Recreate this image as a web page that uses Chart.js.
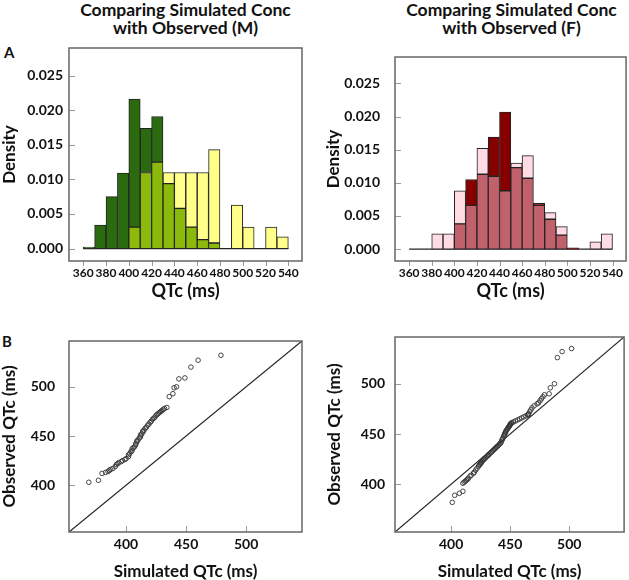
<!DOCTYPE html>
<html>
<head>
<meta charset="utf-8">
<script src="https://cdn.jsdelivr.net/npm/chart.js@4.4.0/dist/chart.umd.min.js"></script>
<style>
  body { margin: 0; background: #fff; width: 629px; height: 580px; position: relative; overflow: hidden; font-family: Lato, sans-serif; }
  canvas { position: absolute; }
  .t { position: absolute; font-weight: bold; color: #111; text-align: center; white-space: nowrap; }
</style>
</head>
<body>
<div class="t" style="left:69px;width:233px;top:1px;font-size:17.5px;line-height:18px">Comparing Simulated Conc<br>with Observed (M)</div>
<div class="t" style="left:395px;width:233px;top:1px;font-size:17.5px;line-height:18px">Comparing Simulated Conc<br>with Observed (F)</div>
<div class="t" style="left:4px;top:44px;font-size:15px;line-height:16px">A</div>
<div class="t" style="left:2px;top:333px;font-size:15px;line-height:16px">B</div>

<canvas id="histM" width="310" height="265" style="left:0;top:35px"></canvas>
<canvas id="histF" width="309" height="265" style="left:320px;top:35px"></canvas>
<canvas id="qqM" width="310" height="260" style="left:0;top:320px"></canvas>
<canvas id="qqF" width="309" height="260" style="left:320px;top:320px"></canvas>

<script>
// histogram bins (10 ms wide), centre of each bin
const binMid = [365, 375, 385, 395, 405, 415, 425, 435, 445, 455, 465, 475, 485, 495, 505, 515, 525, 535];
const histXTicks = [360, 380, 400, 420, 440, 460, 480, 500, 520, 540];
const histYTicks = [0, 0.005, 0.010, 0.015, 0.020, 0.025];

// density, males
const simM = [0.0002, 0.0034, 0.0075, 0.0109, 0.0216, 0.0174, 0.0191, 0.0094, 0.0058, 0.0031, 0.0013, 0.0008, 0, 0, 0, 0, 0, 0];
const obsM = [0, 0, 0, 0, 0.0031, 0.0110, 0.0125, 0.0110, 0.0110, 0.0110, 0.0110, 0.0143, 0, 0.0063, 0.0031, 0, 0.0031, 0.0017];
// density, females
const simF = [0, 0, 0, 0, 0.0038, 0.0105, 0.0113, 0.0169, 0.0207, 0.0123, 0.0107, 0.0069, 0.0045, 0.0021, 0.0002, 0, 0, 0];
const obsF = [0, 0, 0.0023, 0.0023, 0.0088, 0.0066, 0.0152, 0.0110, 0.0088, 0.0130, 0.0141, 0.0066, 0.0055, 0.0034, 0, 0, 0.0011, 0.0023];

// Q-Q plot: sorted simulated vs sorted observed QTc (ms)
const qqSimM = [369, 377, 380, 383, 385, 386, 387, 389, 391, 392, 393, 394, 396, 397, 399, 400, 402, 402, 403, 404, 405, 405, 406, 407,
  408, 408, 409, 409, 410, 411, 412, 412, 413, 414, 414, 415, 416, 417, 418, 419, 420, 421, 422, 423, 424, 425, 426, 427, 428, 429,
  430, 431, 432, 434, 436, 439, 440, 442, 444, 449, 454, 460, 479];
const qqObsM = [403, 405, 412, 413, 414, 415, 416, 417, 419, 421, 422, 423, 424, 425, 426, 427, 429, 431, 432, 434, 435, 437, 438, 439,
  441, 442, 444, 445, 446, 448, 449, 451, 452, 454, 455, 456, 458, 459, 461, 462, 464, 465, 467, 468, 469, 471, 472, 473, 474, 475,
  476, 477, 478, 479, 490, 493, 499, 500, 508, 509, 520, 527, 532];
const qqSimF = [401, 403, 407, 410, 410, 411, 412, 413, 414, 414.5, 416, 417, 419, 419.6, 420.8, 422, 423.3, 423.9,
  424.5, 425.2, 425.2, 425.8, 426.4, 427, 427.9, 427.9, 428.8, 429.7, 430.6, 431.4, 431.4,
  432.3, 433.2, 434.1, 435, 435.9, 436.8, 437.6, 438.5, 439.4, 440.3, 441.1, 442, 442.4, 443.1, 443.5, 443.9, 444.6, 445,
  445.4, 445.8, 446.1, 446.5, 447.1, 447.6, 448.2, 448.8, 449.3, 449.3, 449.9, 449.9,
  450.4, 451, 451.5, 452.8, 454.5, 456.3, 458, 459.8, 461.5, 463.3, 465, 465.3,
  465.5, 466.5, 467.5, 468.5, 470.3, 472.8, 474, 475.3, 476.5, 477.8, 479, 483, 484, 487.5, 490, 494, 502];
const qqObsF = [382, 389, 391, 393, 401, 402, 403, 404, 405, 406, 408, 409, 411, 412, 414, 416, 418, 419,
  420, 421, 421, 422, 423, 424, 425, 425, 426, 427, 428, 429, 429,
  430, 431, 432, 433, 434, 435, 436, 437, 438, 439, 440, 441, 442, 444, 445, 446, 448, 449,
  450, 451, 452, 453, 454, 455, 456, 457, 458, 458, 459, 459,
  460, 461, 461, 462, 463, 464, 465, 466, 467, 468, 469, 469.5,
  470, 472, 474, 476, 478, 480, 481, 483, 485, 487, 489, 490, 496, 500, 526, 532, 535];
const qqTicks = [400, 450, 500];
const qqRange = [352.5, 546.5];

const txt = '#111';
const boldFont = (size) => ({ family: 'Lato', weight: 'bold', size: size, lineHeight: 1 });

// box round the plot area plus R-style tick marks
const frame = {
  id: 'frame',
  afterDatasetsDraw(chart, args, opts) {
    const { ctx, chartArea: a, scales } = chart;
    ctx.save();
    ctx.strokeStyle = '#9a9a9a';
    ctx.lineWidth = 1;
    scales.x.ticks.forEach(t => {
      const px = Math.round(scales.x.getPixelForValue(t.value)) + 0.5;
      ctx.beginPath();
      if (opts.xOut) { ctx.moveTo(px, a.bottom); ctx.lineTo(px, a.bottom + 5); }
      else { ctx.moveTo(px, a.bottom); ctx.lineTo(px, a.bottom - 6); }
      ctx.stroke();
    });
    scales.y.ticks.forEach(t => {
      const py = Math.round(scales.y.getPixelForValue(t.value)) + 0.5;
      ctx.beginPath(); ctx.moveTo(a.left, py); ctx.lineTo(a.left + 6, py); ctx.stroke();
    });
    ctx.strokeStyle = '#666';
    ctx.lineWidth = 1.5;
    ctx.strokeRect(a.left, a.top, a.right - a.left, a.bottom - a.top);
    ctx.restore();
  }
};

function histChart(id, sim, obs, colSim, colBoth, colObs, g) {
  const both = sim.map((v, i) => Math.min(v, obs[i]));
  const extra = sim.map((v, i) => Math.abs(v - obs[i]));
  const extraCol = sim.map((v, i) => (v > obs[i] ? colSim : colObs));
  return new Chart(document.getElementById(id), {
    type: 'bar',
    data: {
      datasets: [
        {
          label: 'overlap',
          data: binMid.map((x, i) => ({ x: x, y: both[i] })),
          backgroundColor: colBoth,
          borderColor: '#222',
          borderWidth: 1,
          borderSkipped: false,
          barPercentage: 1,
          categoryPercentage: 1
        },
        {
          label: 'difference',
          data: binMid.map((x, i) => ({ x: x, y: extra[i] })),
          backgroundColor: extraCol,
          borderColor: '#222',
          borderWidth: 1,
          borderSkipped: false,
          barPercentage: 1,
          categoryPercentage: 1
        },
        {
          type: 'line',
          label: 'base',
          data: [{ x: binMid[0] - 5, y: 0 }, { x: binMid[binMid.length - 1] + 5, y: 0 }],
          borderColor: '#222',
          borderWidth: 1.2,
          pointRadius: 0
        }
      ]
    },
    options: {
      responsive: false,
      animation: false,
      devicePixelRatio: 1,
      layout: { padding: { top: g.padTop, right: g.padRight, left: 0, bottom: 0 } },
      plugins: { legend: { display: false }, tooltip: { enabled: false }, frame: { xOut: true } },
      scales: {
        x: {
          type: 'linear', stacked: true, offset: false,
          min: 347.5, max: 552,
          afterBuildTicks: s => { s.ticks = histXTicks.map(v => ({ value: v })); },
          afterFit: s => { s.height = 39; },
          grid: { display: false, drawTicks: false },
          border: { display: false },
          ticks: { autoSkip: false, maxRotation: 0, padding: 6, color: txt, font: boldFont(12) },
          title: { display: true, text: 'QTc (ms)', color: txt, font: boldFont(18), padding: { top: 0, bottom: 0 } }
        },
        y: {
          stacked: true,
          min: -0.0018, max: 0.029,
          afterBuildTicks: s => { s.ticks = histYTicks.map(v => ({ value: v })); },
          afterFit: s => { s.width = g.yWidth; },
          grid: { display: false, drawTicks: false },
          border: { display: false },
          ticks: { padding: g.yPad, color: txt, font: boldFont(14), callback: v => v.toFixed(3) },
          title: { display: true, text: 'Density', color: txt, font: boldFont(17), padding: { top: g.titlePad, bottom: 0 } }
        }
      }
    },
    plugins: [frame]
  });
}

function qqChart(id, sim, obs, g) {
  return new Chart(document.getElementById(id), {
    type: 'scatter',
    data: {
      datasets: [
        {
          label: 'quantiles',
          data: sim.map((x, i) => ({ x: x, y: obs[i] })),
          pointStyle: 'circle',
          pointRadius: 2.3,
          pointBorderWidth: 0.9,
          borderColor: '#333',
          backgroundColor: 'rgba(0,0,0,0)'
        },
        {
          label: 'identity',
          data: [{ x: qqRange[0], y: qqRange[0] }, { x: qqRange[1], y: qqRange[1] }],
          showLine: true,
          borderColor: '#222',
          borderWidth: 1.2,
          pointRadius: 0
        }
      ]
    },
    options: {
      responsive: false,
      animation: false,
      devicePixelRatio: 1,
      layout: { padding: { top: g.padTop, right: g.padRight, left: 0, bottom: 0 } },
      plugins: { legend: { display: false }, tooltip: { enabled: false }, frame: { xOut: false } },
      scales: {
        x: {
          type: 'linear', min: qqRange[0], max: qqRange[1],
          afterBuildTicks: s => { s.ticks = qqTicks.map(v => ({ value: v })); },
          afterFit: s => { s.height = 48; },
          grid: { display: false, drawTicks: false },
          border: { display: false },
          ticks: { autoSkip: false, maxRotation: 0, padding: 5, color: txt, font: boldFont(14) },
          title: { display: true, text: 'Simulated QTc (ms)', color: txt, font: boldFont(17), padding: { top: 0, bottom: 0 } }
        },
        y: {
          type: 'linear', min: qqRange[0], max: qqRange[1],
          afterBuildTicks: s => { s.ticks = qqTicks.map(v => ({ value: v })); },
          afterFit: s => { s.width = g.yWidth; },
          grid: { display: false, drawTicks: false },
          border: { display: false },
          ticks: { padding: g.yPad, color: txt, font: boldFont(14) },
          title: { display: true, text: 'Observed QTc (ms)', color: txt, font: boldFont(17), padding: { top: g.titlePad, bottom: 0 } }
        }
      }
    },
    plugins: [frame]
  });
}

histChart('histM', simM, obsM, '#2b6a0e', '#8cba0c', '#ffff8a', { padTop: 8, padRight: 8, yWidth: 69, yPad: 6, titlePad: 1 });
histChart('histF', simF, obsF, '#870000', '#c1616c', '#ffdbe3', { padTop: 8, padRight: 1, yWidth: 75, yPad: 15, titlePad: 5 });
qqChart('qqM', qqSimM, qqObsM, { padTop: 11, padRight: 8, yWidth: 69, yPad: 14, titlePad: 1 });
qqChart('qqF', qqSimF, qqObsF, { padTop: 11, padRight: 2, yWidth: 75, yPad: 10, titlePad: 6 });
</script>
</body>
</html>
